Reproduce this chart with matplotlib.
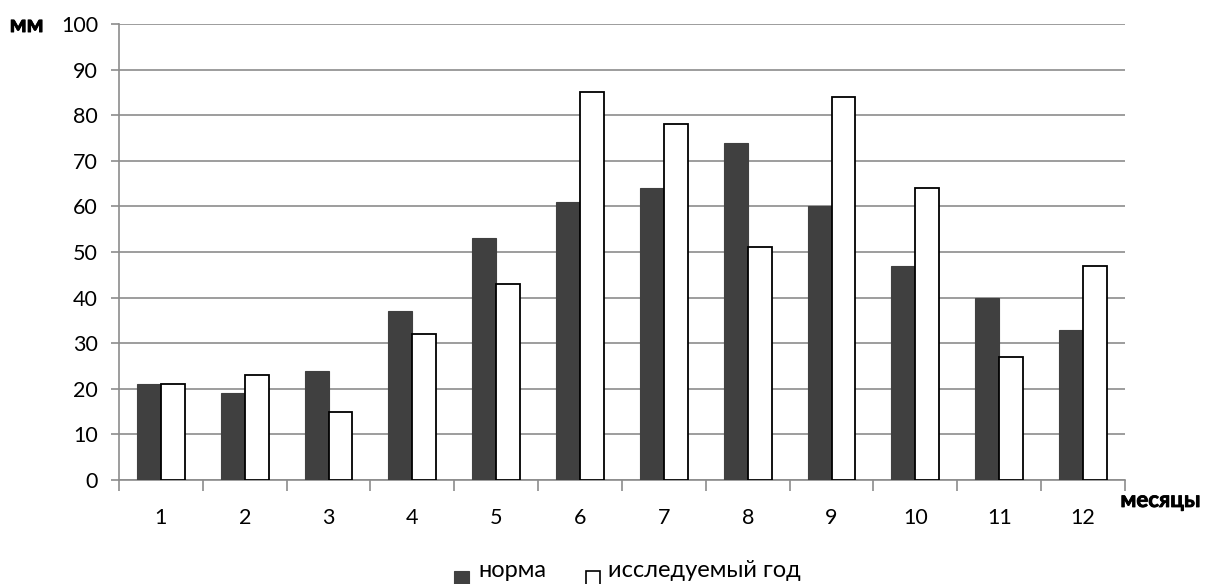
import numpy as np
import matplotlib.pyplot as plt
import matplotlib.patheffects as pe
from matplotlib.patches import Rectangle

plt.rcParams['font.family'] = ['Lato', 'DejaVu Sans']

# осадки по месяцам, мм
months = ['1', '2', '3', '4', '5', '6', '7', '8', '9', '10', '11', '12']
norma = [21, 19, 24, 37, 53, 61, 64, 74, 60, 47, 40, 33]
god = [21, 23, 15, 32, 43, 85, 78, 51, 84, 64, 27, 47]
series_names = ['норма', 'исследуемый год']

dark = '#404040'
grid_c = '#8c8c8c'

fig = plt.figure(figsize=(12.1, 5.84), dpi=100)
ax = fig.add_axes([0.0983, 0.178, 0.8314, 0.781])

x = np.arange(len(months))
w = 0.285
ax.bar(x - w / 2, norma, w, color=dark, edgecolor=dark, linewidth=0.8, zorder=3)
ax.bar(x + w / 2, god, w, color='white', edgecolor='black', linewidth=1.3, zorder=3)

ax.set_xlim(-0.5, len(months) - 0.5)
ax.set_ylim(0, 100)
ax.set_yticks(range(0, 101, 10))
ax.yaxis.grid(True, color=grid_c, linewidth=1.2, zorder=0)
ax.set_axisbelow(True)

# подписи месяцев по центру, засечки между группами
ax.set_xticks(x)
ax.set_xticklabels(months)
ax.set_xticks(np.arange(-0.5, len(months)), minor=True)
ax.tick_params(axis='x', which='major', length=0, pad=20, labelsize=15.5)
ax.tick_params(axis='x', which='minor', length=8, width=1.2, color=grid_c)
ax.tick_params(axis='y', length=6, width=1.2, color=grid_c, labelsize=15.5, pad=9)

for s in ['top', 'right']:
    ax.spines[s].set_visible(False)
ax.spines['left'].set_color(grid_c)
ax.spines['left'].set_linewidth(1.2)
ax.spines['bottom'].set_color(grid_c)
ax.spines['bottom'].set_linewidth(1.2)

# жирные подписи осей
bold = [pe.withStroke(linewidth=0.6, foreground='black')]
fig.text(0.008, 0.958, 'мм', fontsize=17, fontweight='bold', va='center',
         ha='left', path_effects=bold)
fig.text(0.926, 0.143, 'месяцы', fontsize=16, fontweight='bold', va='center',
         ha='left', path_effects=bold)

# легенда: квадратики ниже базовой линии текста
fig.add_artist(Rectangle((0.3752, -0.002), 0.0124, 0.024, transform=fig.transFigure,
                         facecolor=dark, edgecolor=dark, linewidth=0.8))
fig.text(0.395, 0.012, series_names[0], fontsize=17, va='baseline', ha='left')
fig.add_artist(Rectangle((0.4843, -0.006), 0.0115, 0.028, transform=fig.transFigure,
                         facecolor='white', edgecolor='black', linewidth=1.2))
fig.text(0.5025, 0.012, series_names[1], fontsize=17, va='baseline', ha='left')

fig.savefig('out.png', dpi=100)
